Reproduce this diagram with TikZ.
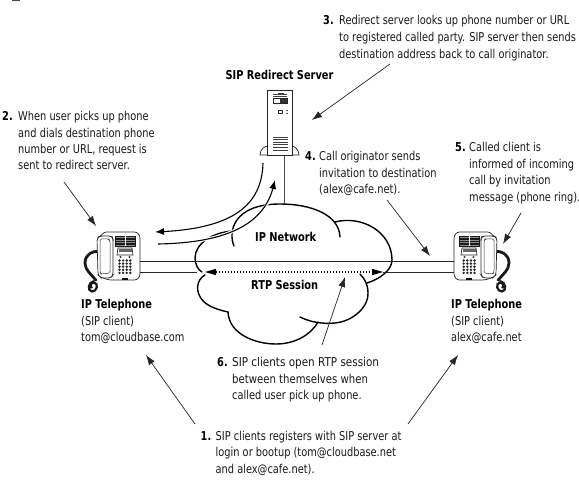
\documentclass[tikz,border=0pt]{standalone}
\usepackage{fontspec}
\usetikzlibrary{arrows.meta}
\setmainfont{DejaVu Sans}[FakeStretch=0.805]
\begin{document}
\begin{tikzpicture}[x=1pt,y=-1pt,
  lbl/.style={anchor=west,inner sep=0pt,text height=9pt,text depth=3pt,font=\fontsize{12.2}{14}\selectfont,text=black!90},
  num/.style={anchor=west,inner sep=0pt,text height=9pt,text depth=3pt,font=\fontsize{12.2}{14}\selectfont\bfseries},
  head/.style={anchor=west,inner sep=0pt,text height=9pt,text depth=3pt,font=\fontsize{12.2}{14}\selectfont\bfseries},
  widened/.style={xscale=#1,transform shape},
  note/.style={draw=black!85,line width=0.7pt,-{Latex[length=10pt,width=7pt]}},
  cloudline/.style={draw=black,line width=1.4pt,line cap=round},
  link/.style={draw=black!85,line width=0.9pt},
  flow/.style={draw=black,line width=1.1pt,-{Latex[length=9pt,width=7pt]}},
  halo/.style={draw=white,line width=3.2pt},
  phonepart/.style={draw=black!85,line width=0.7pt,fill=white},
  slat/.style={draw=black!75,line width=0.7pt}]
\useasboundingbox (0,0) rectangle (579,492);
\fill[white] (0,0) rectangle (579,492);
\fill[black!70] (12,0) rectangle (20,1.3);

% telephone, drawn with the handset on the left
\tikzset{phone/.pic={
  % coiled cord
  \draw[line width=2.8pt,black!90,dash pattern=on 1.5pt off 0.2pt]
    (2,-4) .. controls (-5,-6) and (-12,-1) .. (-12,7)
    .. controls (-12,14) and (-6,18) .. (-3,22) .. controls (-2,23) and (-1,24) .. (-1,25);
  \draw[line width=2.2pt,black!90] (-3,25) .. controls (-9,26) and (-10,35) .. (-5,35.5)
    .. controls (0,36) and (2,27) .. (-3,26.5) .. controls (-7,27) and (-7,31) .. (-5,32);
  % body and handset
  \draw[phonepart,rounded corners=2.5pt] (3,-19) -- (7,-24) -- (40,-24) -- (43,-20) -- (43,20) -- (40,24) -- (12,24) -- (3,21) -- cycle;
  \draw[phonepart,rounded corners=3pt] (0,-18) -- (3,-20) -- (15,-20) -- (16,-17) -- (16,19) -- (14,22) -- (4,22) -- (1,19) -- cycle;
  \draw[draw=black!80,line width=0.5pt,rounded corners=1.5pt] (3,-17) -- (12,-17) -- (13,-15) -- (13,17) -- (4,18) -- (3,16) -- cycle;
  % speaker slats, display, keypad
  \foreach \y in {-18.5,-16,-13.5,-11} {
    \fill[black!45] (18,\y-1) rectangle (38,\y+1);
    \draw[black!90,line width=0.5pt] (18,\y-1) rectangle (38,\y+1);
  }
  \draw[white,line width=0.7pt] (28,-20) -- (28,-9.5);
  \draw[phonepart] (21,-8) -- (35,-8) -- (36,-1) -- (20,-1) -- cycle;
  \fill[black!60] (21.5,-6.8) rectangle (34.5,-4);
  \fill[black!80] (23.5,1) circle (1.2) (32.5,1) circle (1.2);
  \foreach \i in {0,1,2,3} \foreach \j in {0,1,2,3,4}
    \fill[black!85] (22.5+\i*3.6,4.5+\j*3.1) circle (1.35);
  \fill[black!95] (25,21.5) rectangle (31,24);
}}
\path (97,256) pic {phone};
\path (497,256) pic[xscale=-1] {phone};

% anchors for the links and the curved signalling paths
\coordinate (phoneLtop) at (140,261);
\coordinate (phoneLbot) at (140,272);
\coordinate (phoneRtop) at (454,261);
\coordinate (phoneRbot) at (454,272);
\coordinate (rtpL) at (197,272);
\coordinate (tipL) at (205,272);
\coordinate (baseL) at (216,272);
\coordinate (baseR) at (372,272);
\coordinate (tipR) at (383,272);
\coordinate (serverfoot) at (284,155);
\coordinate (cloudtop) at (284,204);

% IP network and RTP session clouds
\draw[cloudline] (234,246) .. controls (228,232) and (233,204) .. (280,204)
  .. controls (310,204) and (339,214) .. (340,237);
\draw[cloudline] (335,222) .. controls (362,215) and (392,232) .. (392,260)
  .. controls (392,270) and (380,279) .. (367,283);
\draw[cloudline] (233,231) .. controls (214,232) and (195,243) .. (195,258)
  .. controls (195,264) and (198,270) .. (202,272);
\draw[cloudline] (205,275) .. controls (196,280) and (195,292) .. (203,301)
  .. controls (209,307) and (219,310) .. (228,312);
\draw[cloudline] (228,312) .. controls (229,334) and (255,344) .. (276,344)
  .. controls (297,344) and (312,333) .. (318,322);
\draw[cloudline] (300,317) .. controls (312,323) and (325,324) .. (335,323)
  .. controls (355,321) and (369,305) .. (368,293)
  .. controls (368,285) and (365,279) .. (360,274);

% links through the clouds
\draw[link] (phoneLtop) -- (phoneRtop);
\draw[link] (phoneLbot) -- (rtpL);
\draw[link] (tipR) -- (phoneRbot);
\draw[black,line width=1.2pt,dash pattern=on 1.4pt off 1.6pt] (baseL) -- (baseR);
\fill[black] (tipL) -- (216,268.8) -- (216,275.2) -- cycle;
\fill[black] (tipR) -- (372,268.8) -- (372,275.2) -- cycle;

% redirect server
\draw[draw=black!70,line width=0.7pt] (serverfoot) -- (cloudtop);
\draw[phonepart] (260,155) .. controls (260,149) and (265,146) .. (268,146) -- (291,146)
  .. controls (295,146) and (299,150) .. (299,155) -- cycle;
\draw[phonepart] (267,90) rectangle (292,155);
\draw[slat] (273,94) -- (287,94);
\fill[black!75] (278,92.8) rectangle (284,94);
\draw[slat,line width=0.5pt] (273,96) -- (287,96);
\draw[phonepart] (273,98.5) rectangle (287,103);
\fill[black!80] (280,99) rectangle (287,103);
\draw[black!80,line width=0.5pt] (278,110.5) rectangle (282,113.5);
\fill[black!80] (287,110.5) circle (0.8) (287,113.5) circle (0.8);
\foreach \y in {137,139.6,142.2,144.8,147.4,150} \draw[slat] (273,\y) -- (288,\y);

% signalling between the caller and the server
\draw[halo] (263,163) .. controls (262,205) and (233,228) .. (165,232);
\draw[halo] (158,244) .. controls (215,243) and (262,230) .. (274,188);
\draw[flow] (263,163) .. controls (262,205) and (233,228) .. (155,232);
\draw[flow] (158,244) .. controls (215,243) and (262,230) .. (275,180);

% headings
\node[head,anchor=center] (srvname) at (279.5,77) {SIP Redirect Server};
\node[head] (telL) at (81,305) {IP Telephone};
\node[lbl] (sipL) at (81,322) {(SIP client)};
\node[lbl] (mailL) at (81,338) {tom@cloudbase.com};
\node[head] (telR) at (451,305) {IP Telephone};
\node[lbl] (sipR) at (451,322) {(SIP client)};
\node[lbl] (mailR) at (451,338) {alex@cafe.net};
\node[head] (ipnet) at (255,239) {IP Network};
\node[head] (rtp) at (251,287) {RTP Session};

% numbered notes
\node[num] (n3) at (323,22) {3.};
\node[lbl] (n3a) at (339,22) {Redirect server looks up phone number or URL};
\node[lbl] (n3b) at (339,39) {to registered called party. SIP server then sends};
\node[lbl] (n3c) at (339,56) {destination address back to call originator.};

\node[num] (n2) at (2,118) {2.};
\node[lbl] (n2a) at (18,118) {When user picks up phone};
\node[lbl] (n2b) at (18,135) {and dials destination phone};
\node[lbl] (n2c) at (18,151) {number or URL, request is};
\node[lbl] (n2d) at (18,167) {sent to redirect server.};

\node[num] (n4) at (305,158) {4.};
\node[lbl] (n4a) at (319,158) {Call originator sends};
\node[lbl] (n4b) at (319,175) {invitation to destination};
\node[lbl] (n4c) at (319,191) {(alex@cafe.net).};

\node[num] (n5) at (455,149) {5.};
\node[lbl] (n5a) at (469,149) {Called client is};
\node[lbl] (n5b) at (469,166) {informed of incoming};
\node[lbl] (n5c) at (469,182) {call by invitation};
\node[lbl] (n5d) at (469,199) {message (phone ring).};

\node[num] (n6) at (217,363) {6.};
\node[lbl,widened=1.06] (n6a) at (232,363) {SIP clients open RTP session};
\node[lbl,widened=1.03] (n6b) at (232,380) {between themselves when};
\node[lbl] (n6c) at (232,396) {called user pick up phone.};

\node[num] (n1) at (200.5,437) {1.};
\node[lbl] (n1a) at (215.5,437) {SIP clients registers with SIP server at};
\node[lbl] (n1b) at (215.5,453.5) {login or bootup (tom@cloudbase.net};
\node[lbl] (n1c) at (215.5,470) {and alex@cafe.net).};

% pointers from the notes
\coordinate (p3s) at (390,64);  \coordinate (p3e) at (312,120);
\coordinate (p2s) at (64,182);  \coordinate (p2e) at (96,226);
\coordinate (p4s) at (387,200); \coordinate (p4e) at (430,256);
\coordinate (p5s) at (521,213); \coordinate (p5e) at (503,244);
\coordinate (p6s) at (322,345); \coordinate (p6e) at (345,277);
\coordinate (p1s) at (195,424); \coordinate (p1e) at (146,355);
\coordinate (p7s) at (408,424); \coordinate (p7e) at (458,355);
\foreach \k in {3,2,4,5,6,1,7} \draw[note] (p\k s) -- (p\k e);
\end{tikzpicture}
\end{document}
